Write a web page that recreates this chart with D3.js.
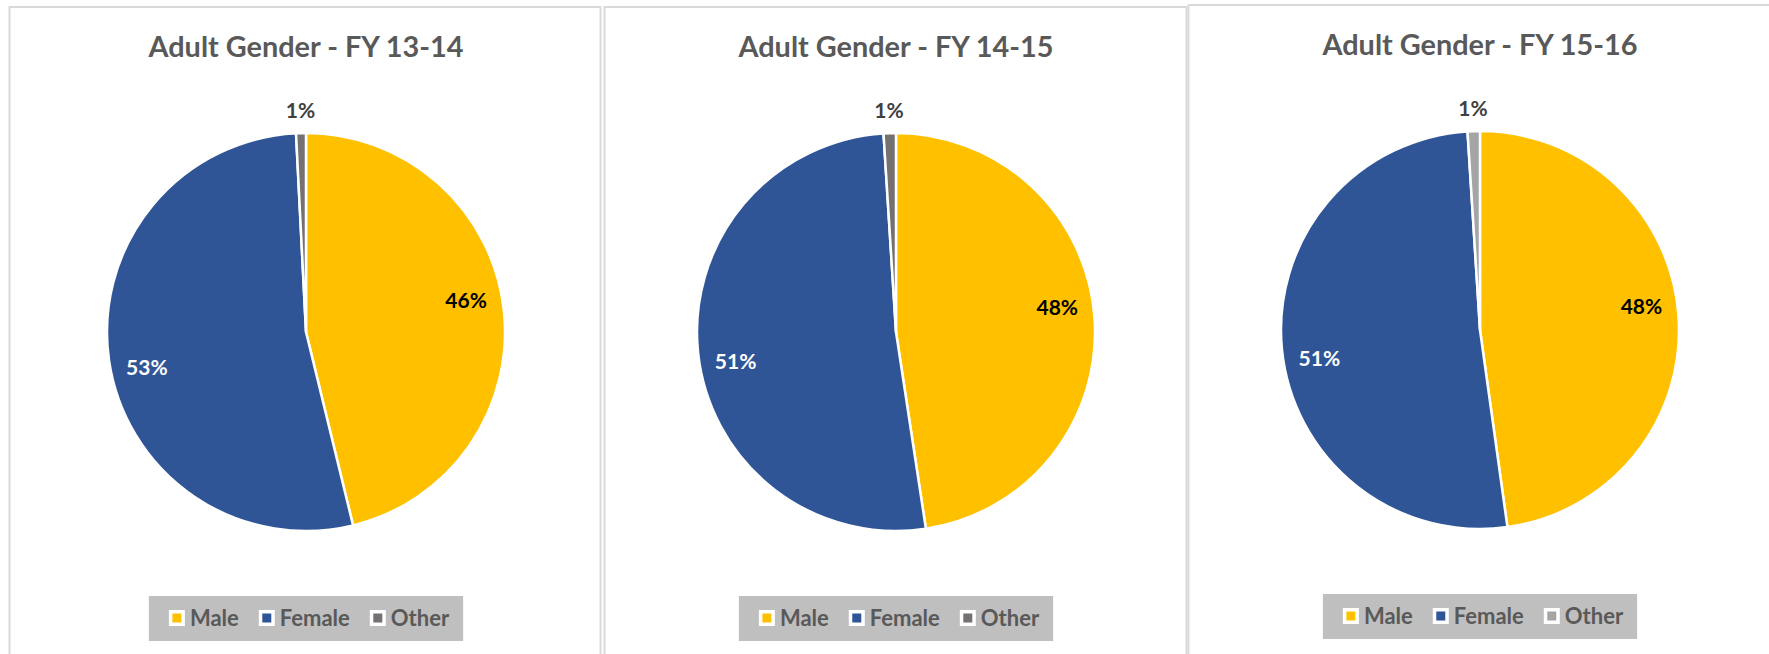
<!DOCTYPE html>
<html>
<head>
<meta charset="utf-8">
<script src="https://cdnjs.cloudflare.com/ajax/libs/d3/7.8.5/d3.min.js"></script>
<style>
  html, body { margin: 0; padding: 0; background: #ffffff; }
  svg { display: block; }
  text { font-family: Lato, "Open Sans", sans-serif; font-weight: 700; }
</style>
</head>
<body>
<div id="chart"></div>
<script>
// data (percent of adults)
let years = ["FY 13-14", "FY 14-15", "FY 15-16"];
let categories = ["Male", "Female", "Other"];
let male_values = [46.2, 47.6, 47.8];
let female_values = [53.0, 51.4, 51.2];
let other_values = [0.8, 1.0, 1.0];

// colours
let slice_colors = [
  ["#FFC000", "#2F5597", "#767171"],
  ["#FFC000", "#2F5597", "#767171"],
  ["#FFC000", "#2F5597", "#A5A5A5"]
];
let label_colors = ["#000000", "#ffffff", "#404040"];

let width = 1769, height = 654;
let radius = 199;
// panel frames (the third one runs off the right edge)
let panels = [
  {x: 9.5, y: 7, w: 591, cx: 306},
  {x: 604.5, y: 7, w: 582, cx: 896},
  {x: 1188.5, y: 5, w: 640, cx: 1480}
];

let svg = d3.select("#chart").append("svg")
  .attr("width", width)
  .attr("height", height);

let pie = d3.pie().sort(null).value(d => d.value);
let arc = d3.arc().innerRadius(0).outerRadius(radius);
let arc_inside = d3.arc().innerRadius(radius * 0.82).outerRadius(radius * 0.82);
let arc_outside = d3.arc().innerRadius(radius + 22).outerRadius(radius + 22);
let label_shift = 4.4 * Math.PI / 180;

years.forEach(function(year, i) {
  let p = panels[i];
  let data = categories.map(function(c, j) {
    let v = [male_values, female_values, other_values][j][i];
    return {category: c, value: v};
  });
  let color = d3.scaleOrdinal().domain(categories).range(slice_colors[i]);
  let label_color = d3.scaleOrdinal().domain(categories).range(label_colors);

  let g = svg.append("g");

  // frame
  g.append("rect")
    .attr("x", p.x)
    .attr("y", p.y)
    .attr("width", p.w)
    .attr("height", height + 50)
    .attr("fill", "#ffffff")
    .attr("stroke", "#D9D9D9")
    .attr("stroke-width", 2);

  // title
  let top = p.y - 1;
  g.append("text")
    .attr("x", p.cx)
    .attr("y", top + 51)
    .attr("text-anchor", "middle")
    .attr("font-size", 29)
    .attr("fill", "#595959")
    .attr("textLength", 315)
    .attr("lengthAdjust", "spacingAndGlyphs")
    .text("Adult Gender - " + year);

  // pie
  let pg = g.append("g")
    .attr("transform", "translate(" + p.cx + "," + (top + 326) + ")");
  let arcs = pie(data);

  pg.selectAll("path")
    .data(arcs)
    .enter().append("path")
    .attr("d", arc)
    .attr("fill", d => color(d.data.category))
    .attr("stroke", "#ffffff")
    .attr("stroke-width", 2.5)
    .attr("stroke-linejoin", "round");

  pg.selectAll(".pct")
    .data(arcs)
    .enter().append("text")
    .attr("class", "pct")
    .attr("transform", function(d) {
      let small = d.data.value < 5;
      let a = small ? d : {startAngle: d.startAngle - label_shift, endAngle: d.endAngle - label_shift};
      let c = small ? arc_outside.centroid(a) : arc_inside.centroid(a);
      return "translate(" + c[0] + "," + c[1] + ")";
    })
    .attr("dy", "0.35em")
    .attr("text-anchor", "middle")
    .attr("font-size", 21)
    .attr("fill", d => label_color(d.data.category))
    .text(d => Math.round(d.data.value) + "%");

  // legend
  let lg = g.append("g");
  let box_top = top + 590;
  let bg = lg.append("rect")
    .attr("y", box_top)
    .attr("height", 45)
    .attr("fill", "#BFBFBF");
  let xpos = 20;
  categories.forEach(function(c) {
    lg.append("rect")
      .attr("x", xpos)
      .attr("y", box_top + 14)
      .attr("width", 16)
      .attr("height", 16)
      .attr("fill", "#ffffff");
    lg.append("rect")
      .attr("x", xpos + 3.5)
      .attr("y", box_top + 17.5)
      .attr("width", 9)
      .attr("height", 9)
      .attr("fill", color(c));
    let t = lg.append("text")
      .attr("x", xpos + 21)
      .attr("y", box_top + 29.5)
      .attr("font-size", 22)
      .attr("fill", "#595959")
      .text(c);
    xpos += 21 + t.node().getComputedTextLength() + 20;
  });
  let box_w = xpos - 20 + 14;
  bg.attr("x", 0).attr("width", box_w);
  lg.attr("transform", "translate(" + (p.cx - box_w / 2) + ",0)");
});
</script>
</body>
</html>
